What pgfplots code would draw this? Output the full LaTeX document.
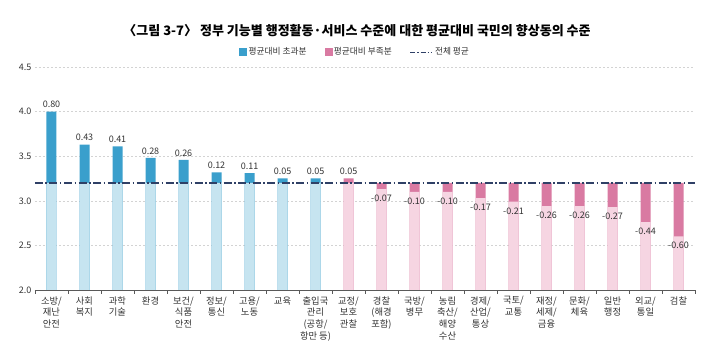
\documentclass[border=0pt]{standalone}
\usepackage{fontspec}
\setmainfont{Noto Sans CJK KR}
\usepackage{pgfplots}
\usepackage{pgfplotstable}
\pgfplotsset{compat=1.18}
\definecolor{cBlue}{HTML}{3A9FCC}
\definecolor{cLBlue}{HTML}{C6E4F0}
\definecolor{cPink}{HTML}{D97AA2}
\definecolor{cLPink}{HTML}{F6D5E2}
\definecolor{cNavy}{HTML}{2F4066}
\definecolor{cGrid}{HTML}{D3D3D3}
\definecolor{cText}{HTML}{333333}

% blue: categories above the average (dark top, light = average 3.20)
\pgfplotstableread{
x top avg lab
0 4.00 3.20 0.80
1 3.63 3.20 0.43
2 3.61 3.20 0.41
3 3.48 3.20 0.28
4 3.46 3.20 0.26
5 3.32 3.20 0.12
6 3.31 3.20 0.11
7 3.25 3.20 0.05
8 3.25 3.20 0.05
}\bluetab
% pink: dark up to max(value,avg), light up to min(value,avg)
\pgfplotstableread{
x dark light
9 3.25 3.20
10 3.20 3.13
11 3.20 3.10
12 3.20 3.10
13 3.20 3.03
14 3.20 2.99
15 3.20 2.94
16 3.20 2.94
17 3.20 2.93
18 3.20 2.76
19 3.20 2.60
}\pinktab
\pgfplotstableread{
x val lab
9 3.25 0.05
}\pinkuptab
\pgfplotstableread{
x val lab
10 3.13 -0.07
11 3.10 -0.10
12 3.10 -0.10
13 3.03 -0.17
14 2.99 -0.21
15 2.94 -0.26
16 2.94 -0.26
17 2.93 -0.27
18 2.76 -0.44
19 2.60 -0.60
}\pinkdowntab

\begin{document}
\begin{tikzpicture}
\begin{axis}[
  scale only axis, width=660pt, height=223pt,
  xmin=-0.5, xmax=19.5, ymin=2, ymax=4.5,
  ybar, bar width=10pt, bar shift=0pt,
  axis x line*=bottom, axis y line*=left,
  y axis line style={draw=none},
  x axis line style={draw=black!65, line width=0.7pt, -},
  ytick={2,2.5,3,3.5,4,4.5},
  /pgf/number format/fixed, /pgf/number format/fixed zerofill,
  /pgf/number format/precision=1, /pgf/number format/assume math mode=true,
  yticklabel style={font=\fontsize{9}{11}\selectfont, text=cText},
  ymajorgrids, grid style={cGrid, dash pattern=on 2pt off 2pt, line width=0.5pt},
  major tick length=0pt,
  xtick={0,...,19},
  minor xtick={-0.5,0.5,...,19.5},
  minor tick length=4pt, tick align=outside,
  minor x tick style={draw=black!65, line width=0.6pt},
  xticklabels={{소방/\\재난\\안전},{사회\\복지},{과학\\기술},{환경},{보건/\\식품\\안전},{정보/\\통신},{고용/\\노동},{교육},{출입국\\관리\\(공항/\\항만 등)},{교정/\\보호\\관찰},{경찰\\(해경\\포함)},{국방/\\병무},{농림\\축산/\\해양\\수산},{경제/\\산업/\\통상},{국토/\\교통},{재정/\\세제/\\금융},{문화/\\체육},{일반\\행정},{외교/\\통일},{검찰}},
  xticklabel style={font=\fontsize{9.3}{11.6}\selectfont, text=cText, align=center, anchor=north, yshift=-3pt},
  legend columns=3,
  legend style={at={(0.485,1.067)}, anchor=center, draw=none, fill=none,
    font=\fontsize{8.7}{10}\selectfont, text=cText,
    /tikz/every even column/.append style={column sep=16pt}},
  nodes near coords style={font=\fontsize{9}{10}\selectfont, text=cText},
]
\addlegendimage{legend image code/.code={\fill[cBlue] (0pt,-3.5pt) rectangle (7pt,3.5pt);}}
\addlegendentry{평균대비 초과분}
\addlegendimage{legend image code/.code={\fill[cPink] (0pt,-3.5pt) rectangle (7pt,3.5pt);}}
\addlegendentry{평균대비 부족분}
\addlegendimage{legend image code/.code={\draw[cNavy, line width=1.1pt, dash pattern=on 5pt off 2pt on 1.2pt off 2pt] (0pt,0pt) -- (22pt,0pt);}}
\addlegendentry{전체 평균}

% blue dark bars with labels
\addplot[forget plot, fill=cBlue, draw=none, nodes near coords, point meta=explicit symbolic]
  table[x=x, y=top, meta=lab]{\bluetab};
% blue light bars (up to the average)
\addplot[forget plot, fill=cLBlue, draw=none] table[x=x, y=avg]{\bluetab};
% pink dark bars
\addplot[forget plot, fill=cPink, draw=none] table[x=x, y=dark]{\pinktab};
% pink light bars
\addplot[forget plot, fill=cLPink, draw=none] table[x=x, y=light]{\pinktab};
% pink labels
\addplot[forget plot, sharp plot, draw=none, mark=none, nodes near coords, point meta=explicit symbolic]
  table[x=x, y=val, meta=lab]{\pinkuptab};
\addplot[forget plot, sharp plot, draw=none, mark=none, nodes near coords, point meta=explicit symbolic,
  every node near coord/.append style={yshift=-16pt}]
  table[x=x, y=val, meta=lab]{\pinkdowntab};
% overall average
\addplot[forget plot, sharp plot, cNavy, line width=1.1pt, dash pattern=on 8pt off 2.5pt on 1.5pt off 2.5pt]
  coordinates {(-0.5,3.2) (19.5,3.2)};
\end{axis}
\node[font=\fontsize{13}{15}\selectfont\bfseries, text=black] at (322pt,259pt)
  {〈그림 3-7〉 정부 기능별 행정활동·서비스 수준에 대한 평균대비 국민의 향상동의 수준};
\pgfresetboundingbox
\path[use as bounding box] (-35pt,-73pt) rectangle (680pt,290pt);
\end{tikzpicture}
\end{document}
